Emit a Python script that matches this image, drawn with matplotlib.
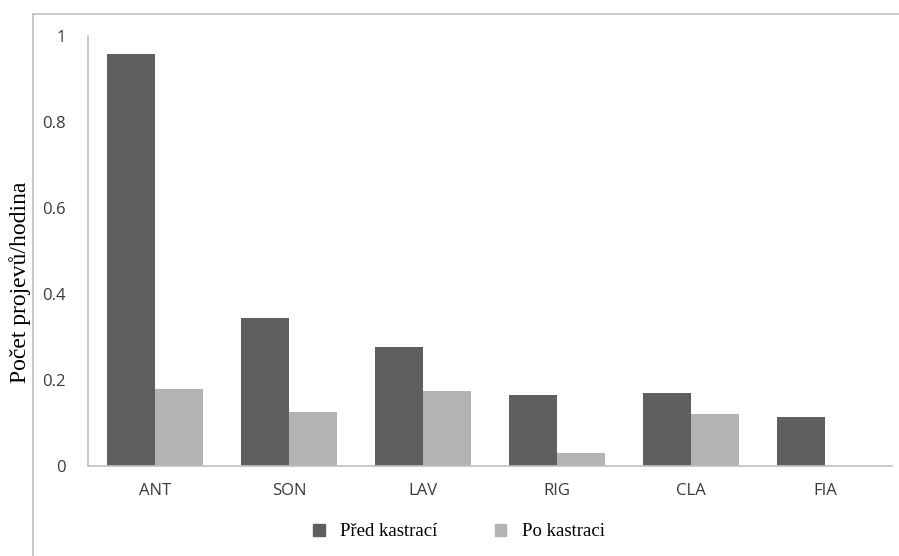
import matplotlib.pyplot as plt
import numpy as np
from matplotlib.lines import Line2D
from matplotlib.patches import Patch

# data
kategorie = ['ANT', 'SON', 'LAV', 'RIG', 'CLA', 'FIA']
pred_kastraci = [0.958, 0.344, 0.277, 0.165, 0.170, 0.115]
po_kastraci = [0.179, 0.126, 0.174, 0.030, 0.121, 0.0]

tmavá = '#5f5f5f'
světlá = '#b3b3b3'
šedá = '#bfbfbf'

fig = plt.figure(figsize=(8.99, 5.56), dpi=100)
ax = fig.add_axes([88 / 899, 1 - 466 / 556, (892 - 88) / 899, (466 - 36) / 556])

x = np.arange(len(kategorie))
w = 0.36
ax.bar(x - w / 2, pred_kastraci, w, color=tmavá, label='Před kastrací')
ax.bar(x + w / 2, po_kastraci, w, color=světlá, label='Po kastraci')

ax.set_xlim(-0.5, len(kategorie) - 0.5)
ax.set_ylim(0, 1)
ax.set_yticks([0, 0.2, 0.4, 0.6, 0.8, 1])
ax.set_yticklabels(['0', '0.2', '0.4', '0.6', '0.8', '1'])
ax.set_xticks(x)
ax.set_xticklabels(kategorie)
ax.tick_params(length=0, labelsize=12, labelcolor='#3a3a3a', pad=12)
ax.tick_params(axis='y', pad=16)
for t in ax.get_xticklabels() + ax.get_yticklabels():
    t.set_family('Open Sans')

for s in ['top', 'right']:
    ax.spines[s].set_visible(False)
for s in ['left', 'bottom']:
    ax.spines[s].set_color(šedá)
    ax.spines[s].set_linewidth(1.2)

# osa y - popisek
fig.text(20 / 899, 1 - 282 / 556, 'Počet projevů/hodina', rotation=90,
         ha='center', va='center', family='Liberation Serif', fontsize=17)

# rámeček grafu
fig.add_artist(Line2D([33 / 899, 33 / 899], [0, 1 - 14 / 556],
                      transform=fig.transFigure, color=šedá, lw=1.2))
fig.add_artist(Line2D([33 / 899, 1], [1 - 14 / 556, 1 - 14 / 556],
                      transform=fig.transFigure, color=šedá, lw=1.2))

# legenda
handles = [Patch(color=tmavá), Patch(color=světlá)]
fig.legend(handles, ['Před kastrací', 'Po kastraci'], loc='center',
           bbox_to_anchor=(459 / 899, 1 - 532 / 556), ncol=2, frameon=False,
           prop={'family': 'Liberation Serif', 'size': 13.5},
           handlelength=0.6, handleheight=0.6, columnspacing=3.1, handletextpad=0.8)

fig.savefig('out.png', dpi=100)
